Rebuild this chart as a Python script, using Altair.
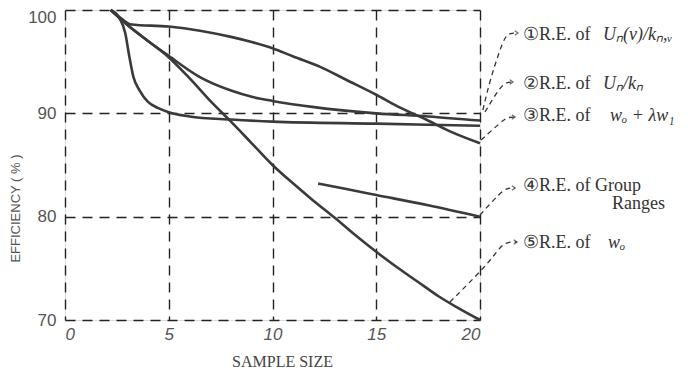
import altair as alt
import pandas as pd

# ---- curve data (sample size vs relative efficiency %) ----
c1_x = [2.2, 2.7, 3.2, 5.0, 6.5, 8.0, 9.0, 10.0, 11.0, 12.3, 13.5, 15.0, 16.0, 17.4, 18.5, 20.0]
c1_y = [100, 99.2, 98.6, 98.4, 98.0, 97.4, 96.9, 96.3, 95.5, 94.5, 93.3, 91.8, 90.7, 89.4, 88.3, 87.1]

c2_x = [2.2, 3.1, 4.0, 4.9, 6.5, 8.0, 9.0, 10.0, 12.0, 15.0, 17.5, 20.0]
c2_y = [100, 98.4, 97.0, 95.7, 93.5, 92.2, 91.6, 91.2, 90.6, 90.0, 89.7, 89.3]

c3_x = [2.2, 2.6, 2.9, 3.1, 3.3, 3.6, 4.0, 4.5, 5.0, 6.0, 8.0, 10.0, 15.0, 20.0]
c3_y = [100, 99.3, 97.8, 95.5, 93.5, 92.2, 91.1, 90.5, 90.1, 89.7, 89.4, 89.2, 89.0, 88.8]

c4_x = [12.2, 13.5, 15.0, 17.5, 20.0]
c4_y = [83.2, 82.7, 82.1, 81.1, 80.0]

c5_x = [2.2, 3.1, 4.0, 4.9, 6.0, 7.0, 8.0, 9.0, 10.0, 11.0, 12.0, 13.0, 14.0, 15.0, 16.0, 17.0, 18.0, 19.0, 20.0]
c5_y = [100, 98.4, 97.0, 95.6, 93.4, 91.2, 89.2, 87.1, 85.0, 83.2, 81.5, 79.9, 78.2, 76.6, 75.1, 73.7, 72.3, 71.1, 70.0]

x_ticks = [0, 5, 10, 15, 20]
y_ticks = [70, 80, 90, 100]

# ---- annotation text ----
label_prefix = ["\u2460R.E. of ", "\u2461R.E. of ", "\u2462R.E. of ", "\u2463R.E. of Group", "\u2464R.E. of "]
label_math = ["U\u2099(\u03bd)/k\u2099,\u1d65", "U\u2099/k\u2099", "w\u2092 + \u03bbw\u2081", "", "w\u2092"]
label_y = [97.58, 92.84, 89.74, 82.97, 77.45]
label_x = [22.07] * 5
math_x = [25.93, 25.93, 26.27, 26.0, 26.17]
extra_text = ["Ranges"]
extra_x = [26.36]
extra_y = [81.23]

# leader lines (data coords, extending beyond the plot frame)
leader_x = [
    [20.14, 20.48, 20.96, 21.20, 21.45, 21.83],
    [20.24, 20.96, 21.30, 21.59],
    [20.05, 20.96, 21.30, 21.69],
    [20.00, 20.96, 21.30, 21.69],
    [18.55, 20.34, 20.96, 21.30, 21.78],
]
leader_y = [
    [90.32, 93.23, 96.13, 97.39, 97.77, 97.77],
    [90.13, 92.55, 93.03, 93.03],
    [87.42, 89.06, 89.64, 89.64],
    [80.16, 82.29, 82.77, 82.77],
    [71.74, 75.32, 77.06, 77.55, 77.55],
]

# ---- build tables ----
rows = []
for name, xs, ys in [("1", c1_x, c1_y), ("2", c2_x, c2_y), ("3", c3_x, c3_y),
                     ("4", c4_x, c4_y), ("5", c5_x, c5_y)]:
    for i, (a, b) in enumerate(zip(xs, ys)):
        rows.append({"curve": name, "n": a, "eff": b, "i": i})
curves = pd.DataFrame(rows)

lrows = []
tips = []
for k, (xs, ys) in enumerate(zip(leader_x, leader_y)):
    for i, (a, b) in enumerate(zip(xs, ys)):
        lrows.append({"lead": k, "n": a, "eff": b, "i": i})
    tips.append({"lead": k, "n": xs[-1], "eff": ys[-1]})
leaders = pd.DataFrame(lrows)
tips = pd.DataFrame(tips)

labels = pd.DataFrame({"x": label_x, "y": label_y, "t": label_prefix})
maths = pd.DataFrame({"x": math_x, "y": label_y, "t": label_math})
maths = maths[maths["t"] != ""]
extras = pd.DataFrame({"x": extra_x, "y": extra_y, "t": extra_text})

xscale = alt.Scale(domain=[0, 20], nice=False, zero=False)
yscale = alt.Scale(domain=[70, 100], nice=False, zero=False)

SANS = "Liberation Sans"

xaxis = alt.Axis(values=x_ticks, title="SAMPLE SIZE", grid=True, gridDash=[10, 7],
                 gridColor="#222", gridWidth=1.4, gridOpacity=1, ticks=False, domain=False,
                 labelFont=SANS, labelFontSize=17, labelFontStyle="italic",
                 labelColor="#555", labelPadding=6,
                 titleFont="Liberation Serif", titleFontSize=16, titleFontWeight="normal",
                 titleColor="#444", titleX=217, titleY=41, titleAlign="center",
                 titleBaseline="middle")
yaxis = alt.Axis(values=y_ticks, title="EFFICIENCY ( % )", grid=True, gridDash=[10, 7],
                 gridColor="#222", gridWidth=1.4, gridOpacity=1, ticks=False, domain=False,
                 labelFont=SANS, labelFontSize=17, labelColor="#555", labelPadding=9,
                 labelOffset={"condition": {"test": "datum.value == 100", "value": 7}, "value": 0},
                 titleFont=SANS, titleFontSize=13, titleFontWeight="normal", titleColor="#555",
                 titleAngle=270, titleX=-50, titleY=198, titleAlign="center",
                 titleBaseline="middle")

lines = alt.Chart(curves).mark_line(color="#3a3a3a", strokeWidth=2.6,
                                     interpolate="monotone").encode(
    x=alt.X("n:Q", scale=xscale, axis=xaxis),
    y=alt.Y("eff:Q", scale=yscale, axis=yaxis),
    detail="curve:N",
    order="i:Q",
)

lead = alt.Chart(leaders).mark_line(color="#333", strokeWidth=1.3, strokeDash=[5, 4],
                                     interpolate="basis", clip=False).encode(
    x=alt.X("n:Q", scale=xscale),
    y=alt.Y("eff:Q", scale=yscale),
    detail="lead:N",
    order="i:Q",
)

arrows = alt.Chart(tips).mark_point(shape="M-1,-0.7L0,0L-1,0.7", filled=False, color="#333",
                                     strokeWidth=1.3, size=40, clip=False).encode(
    x=alt.X("n:Q", scale=xscale),
    y=alt.Y("eff:Q", scale=yscale),
)

txt = alt.Chart(labels).mark_text(align="left", baseline="middle", font="Liberation Serif",
                                   fontSize=18, color="#333", clip=False).encode(
    x=alt.X("x:Q", scale=xscale), y=alt.Y("y:Q", scale=yscale), text="t:N")

mtxt = alt.Chart(maths).mark_text(align="left", baseline="middle", font="Liberation Serif",
                                   fontSize=18, fontStyle="italic", color="#333",
                                   clip=False).encode(
    x=alt.X("x:Q", scale=xscale), y=alt.Y("y:Q", scale=yscale), text="t:N")

etxt = alt.Chart(extras).mark_text(align="left", baseline="middle", font="Liberation Serif",
                                    fontSize=18, color="#333", clip=False).encode(
    x=alt.X("x:Q", scale=xscale), y=alt.Y("y:Q", scale=yscale), text="t:N")

chart = alt.layer(lines, lead, arrows, txt, mtxt, etxt).properties(
    width=415, height=310,
    padding={"left": 57, "top": 2, "right": 202, "bottom": 49},
    autosize=alt.AutoSizeParams(type="none"),
).configure_view(stroke="#222", strokeWidth=2).configure(background="white")

chart.save("out.html", embed_options={"renderer": "svg", "actions": False})
